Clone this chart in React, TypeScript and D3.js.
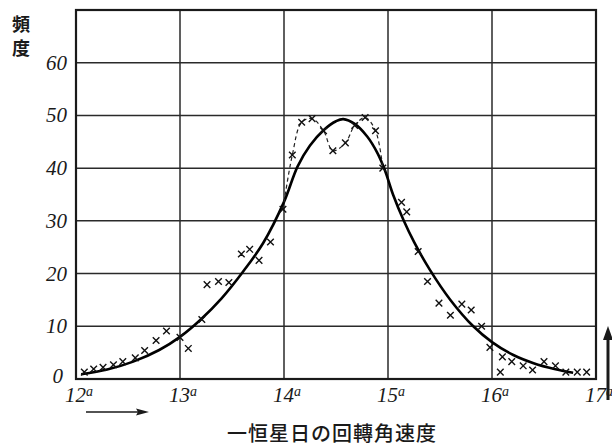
import React, { useEffect, useRef } from 'react';
import * as d3 from 'd3';

// observed frequencies (crosses)
const obsX = [12.08, 12.17, 12.26, 12.36, 12.45, 12.57, 12.66, 12.77, 12.87, 13.0, 13.08, 13.21,
  13.26, 13.37, 13.47, 13.59, 13.67, 13.76, 13.87, 13.99, 14.08, 14.17, 14.27, 14.38, 14.47,
  14.59, 14.68, 14.78, 14.88, 14.95, 15.13, 15.18, 15.29, 15.38, 15.49, 15.6, 15.71, 15.8, 15.9,
  15.98, 16.08, 16.1, 16.19, 16.3, 16.39, 16.5, 16.61, 16.71, 16.82, 16.91];
const obsY = [1.3, 1.9, 2.2, 2.7, 3.3, 4.0, 5.4, 7.3, 9.1, 7.9, 5.8, 11.3,
  17.9, 18.5, 18.3, 23.7, 24.6, 22.5, 26.0, 32.2, 42.5, 48.7, 49.4, 47.1, 43.3,
  44.8, 48.1, 49.6, 47.1, 40.0, 33.5, 31.7, 24.2, 18.5, 14.4, 12.1, 14.2, 13.1, 10.0,
  6.0, 1.3, 4.2, 3.3, 2.5, 1.7, 3.3, 2.5, 1.3, 1.3, 1.3];

// dashed line through the peak observations
const dashX = [13.99, 14.08, 14.17, 14.27, 14.38, 14.47, 14.59, 14.68, 14.78, 14.88, 14.95];
const dashY = [32.2, 42.5, 48.7, 49.4, 47.1, 43.3, 44.8, 48.1, 49.6, 47.1, 40.0];

// smooth fitted curve
const fitX = [12.05, 12.3, 12.55, 12.8, 13.0, 13.2, 13.4, 13.6, 13.8, 14.0, 14.13, 14.25, 14.38,
  14.5, 14.57, 14.68, 14.8, 14.9, 14.97, 15.05, 15.15, 15.25, 15.4, 15.6, 15.82, 16.0, 16.2, 16.4, 16.6, 16.78];
const fitY = [0.9, 1.8, 3.3, 5.5, 8.0, 11.3, 15.3, 20.2, 25.8, 33.6, 40.3, 44.3, 47.2,
  48.9, 49.3, 48.4, 46.0, 42.8, 39.6, 34.9, 30.1, 26.0, 20.8, 15.0, 10.0, 7.0, 4.6, 3.0, 1.9, 1.2];

const xTicks = [12, 13, 14, 15, 16, 17];
const yTicks = [0, 10, 20, 30, 40, 50, 60];

const W = 612;
const H = 446;

const App = () => {
  const svgRef = useRef<SVGSVGElement>(null);

  useEffect(() => {
    const svg = d3.select(svgRef.current);
    svg.selectAll('*').remove();

    const x = d3.scaleLinear().domain([12, 17]).range([76, 596]);
    const y = d3.scaleLinear().domain([0, 70]).range([379, 10]);
    const ink = '#1a1a1a';
    const serif = '"Liberation Serif", "DejaVu Serif", serif';
    const cjk = '"Noto Sans CJK JP", "Noto Sans CJK SC", sans-serif';

    svg.append('rect').attr('width', W).attr('height', H).attr('fill', '#fff');

    // grid
    svg.selectAll('line.vg')
      .data(xTicks.slice(1, -1))
      .join('line')
      .attr('x1', d => x(d)).attr('x2', d => x(d))
      .attr('y1', y(70)).attr('y2', y(0))
      .attr('stroke', '#2a2a2a').attr('stroke-width', 1.5);
    svg.selectAll('line.hg')
      .data(yTicks.slice(1))
      .join('line')
      .attr('x1', x(12)).attr('x2', x(17))
      .attr('y1', d => y(d)).attr('y2', d => y(d))
      .attr('stroke', '#2a2a2a').attr('stroke-width', 1.5);

    svg.append('rect')
      .attr('x', x(12)).attr('y', y(70))
      .attr('width', x(17) - x(12)).attr('height', y(0) - y(70))
      .attr('fill', 'none').attr('stroke', ink).attr('stroke-width', 2.2);

    // y labels
    svg.selectAll('text.yl')
      .data(yTicks)
      .join('text')
      .attr('x', d => (d === 0 ? 63 : 67))
      .attr('y', d => y(d) + (d === 0 ? 4 : 7))
      .attr('text-anchor', 'end')
      .attr('font-family', serif).attr('font-style', 'italic')
      .attr('font-size', 21).attr('fill', ink)
      .text(d => d);

    // x labels with superscript
    const xl = svg.selectAll('text.xl')
      .data(xTicks)
      .join('text')
      .attr('x', d => x(d) + 3)
      .attr('y', 402)
      .attr('text-anchor', 'middle')
      .attr('font-family', serif).attr('font-style', 'italic')
      .attr('font-size', 21).attr('fill', ink);
    xl.append('tspan').text(d => d);
    xl.append('tspan').attr('font-size', 14).attr('dy', -6).text('a');

    // fitted curve
    const line = d3.line<[number, number]>()
      .x(d => x(d[0])).y(d => y(d[1]))
      .curve(d3.curveCatmullRom.alpha(0.5));
    svg.append('path')
      .attr('d', line(fitX.map((v, i) => [v, fitY[i]]))!)
      .attr('fill', 'none').attr('stroke', '#000').attr('stroke-width', 2.6);

    // dashed line
    svg.append('path')
      .attr('d', line(dashX.map((v, i) => [v, dashY[i]]))!)
      .attr('fill', 'none').attr('stroke', '#222').attr('stroke-width', 1.2)
      .attr('stroke-dasharray', '4,3');

    // crosses
    const s = 3.3;
    const cross = svg.selectAll('g.cross')
      .data(obsX.map((v, i) => [v, obsY[i]]))
      .join('g')
      .attr('transform', d => `translate(${x(d[0])},${y(d[1])})`);
    cross.append('path')
      .attr('d', `M${-s},${-s}L${s},${s}M${-s},${s}L${s},${-s}`)
      .attr('stroke', '#111').attr('stroke-width', 1.4);

    // y axis title, stacked
    const yt = svg.append('text').attr('text-anchor', 'middle')
      .attr('font-family', cjk).attr('font-size', 18).attr('font-weight', 700)
      .attr('fill', ink);
    yt.append('tspan').attr('x', 21).attr('y', 31).text('頻');
    yt.append('tspan').attr('x', 21).attr('y', 55).text('度');

    // x axis title
    svg.append('text').attr('x', 332).attr('y', 441).attr('text-anchor', 'middle')
      .attr('font-family', cjk).attr('font-size', 20).attr('font-weight', 500)
      .attr('letter-spacing', 1)
      .attr('fill', ink).text('一恒星日の回轉角速度');

    // arrow under 12
    svg.append('line').attr('x1', 86).attr('x2', 142).attr('y1', 412).attr('y2', 412)
      .attr('stroke', ink).attr('stroke-width', 1.4);
    svg.append('path').attr('d', 'M149,412 L136,408.5 L138,412 L136,415.5 Z').attr('fill', ink);

    // arrow on right edge
    svg.append('line').attr('x1', 608).attr('x2', 608).attr('y1', 336).attr('y2', 400)
      .attr('stroke', ink).attr('stroke-width', 3);
    svg.append('path').attr('d', 'M608,326 L603,340 L613,340 Z').attr('fill', ink);
  }, []);

  return (
    <div style={{ position: 'absolute', left: 0, top: 0 }}>
      <svg ref={svgRef} width={W} height={H} style={{ display: 'block' }}></svg>
    </div>
  );
};

export default App;
